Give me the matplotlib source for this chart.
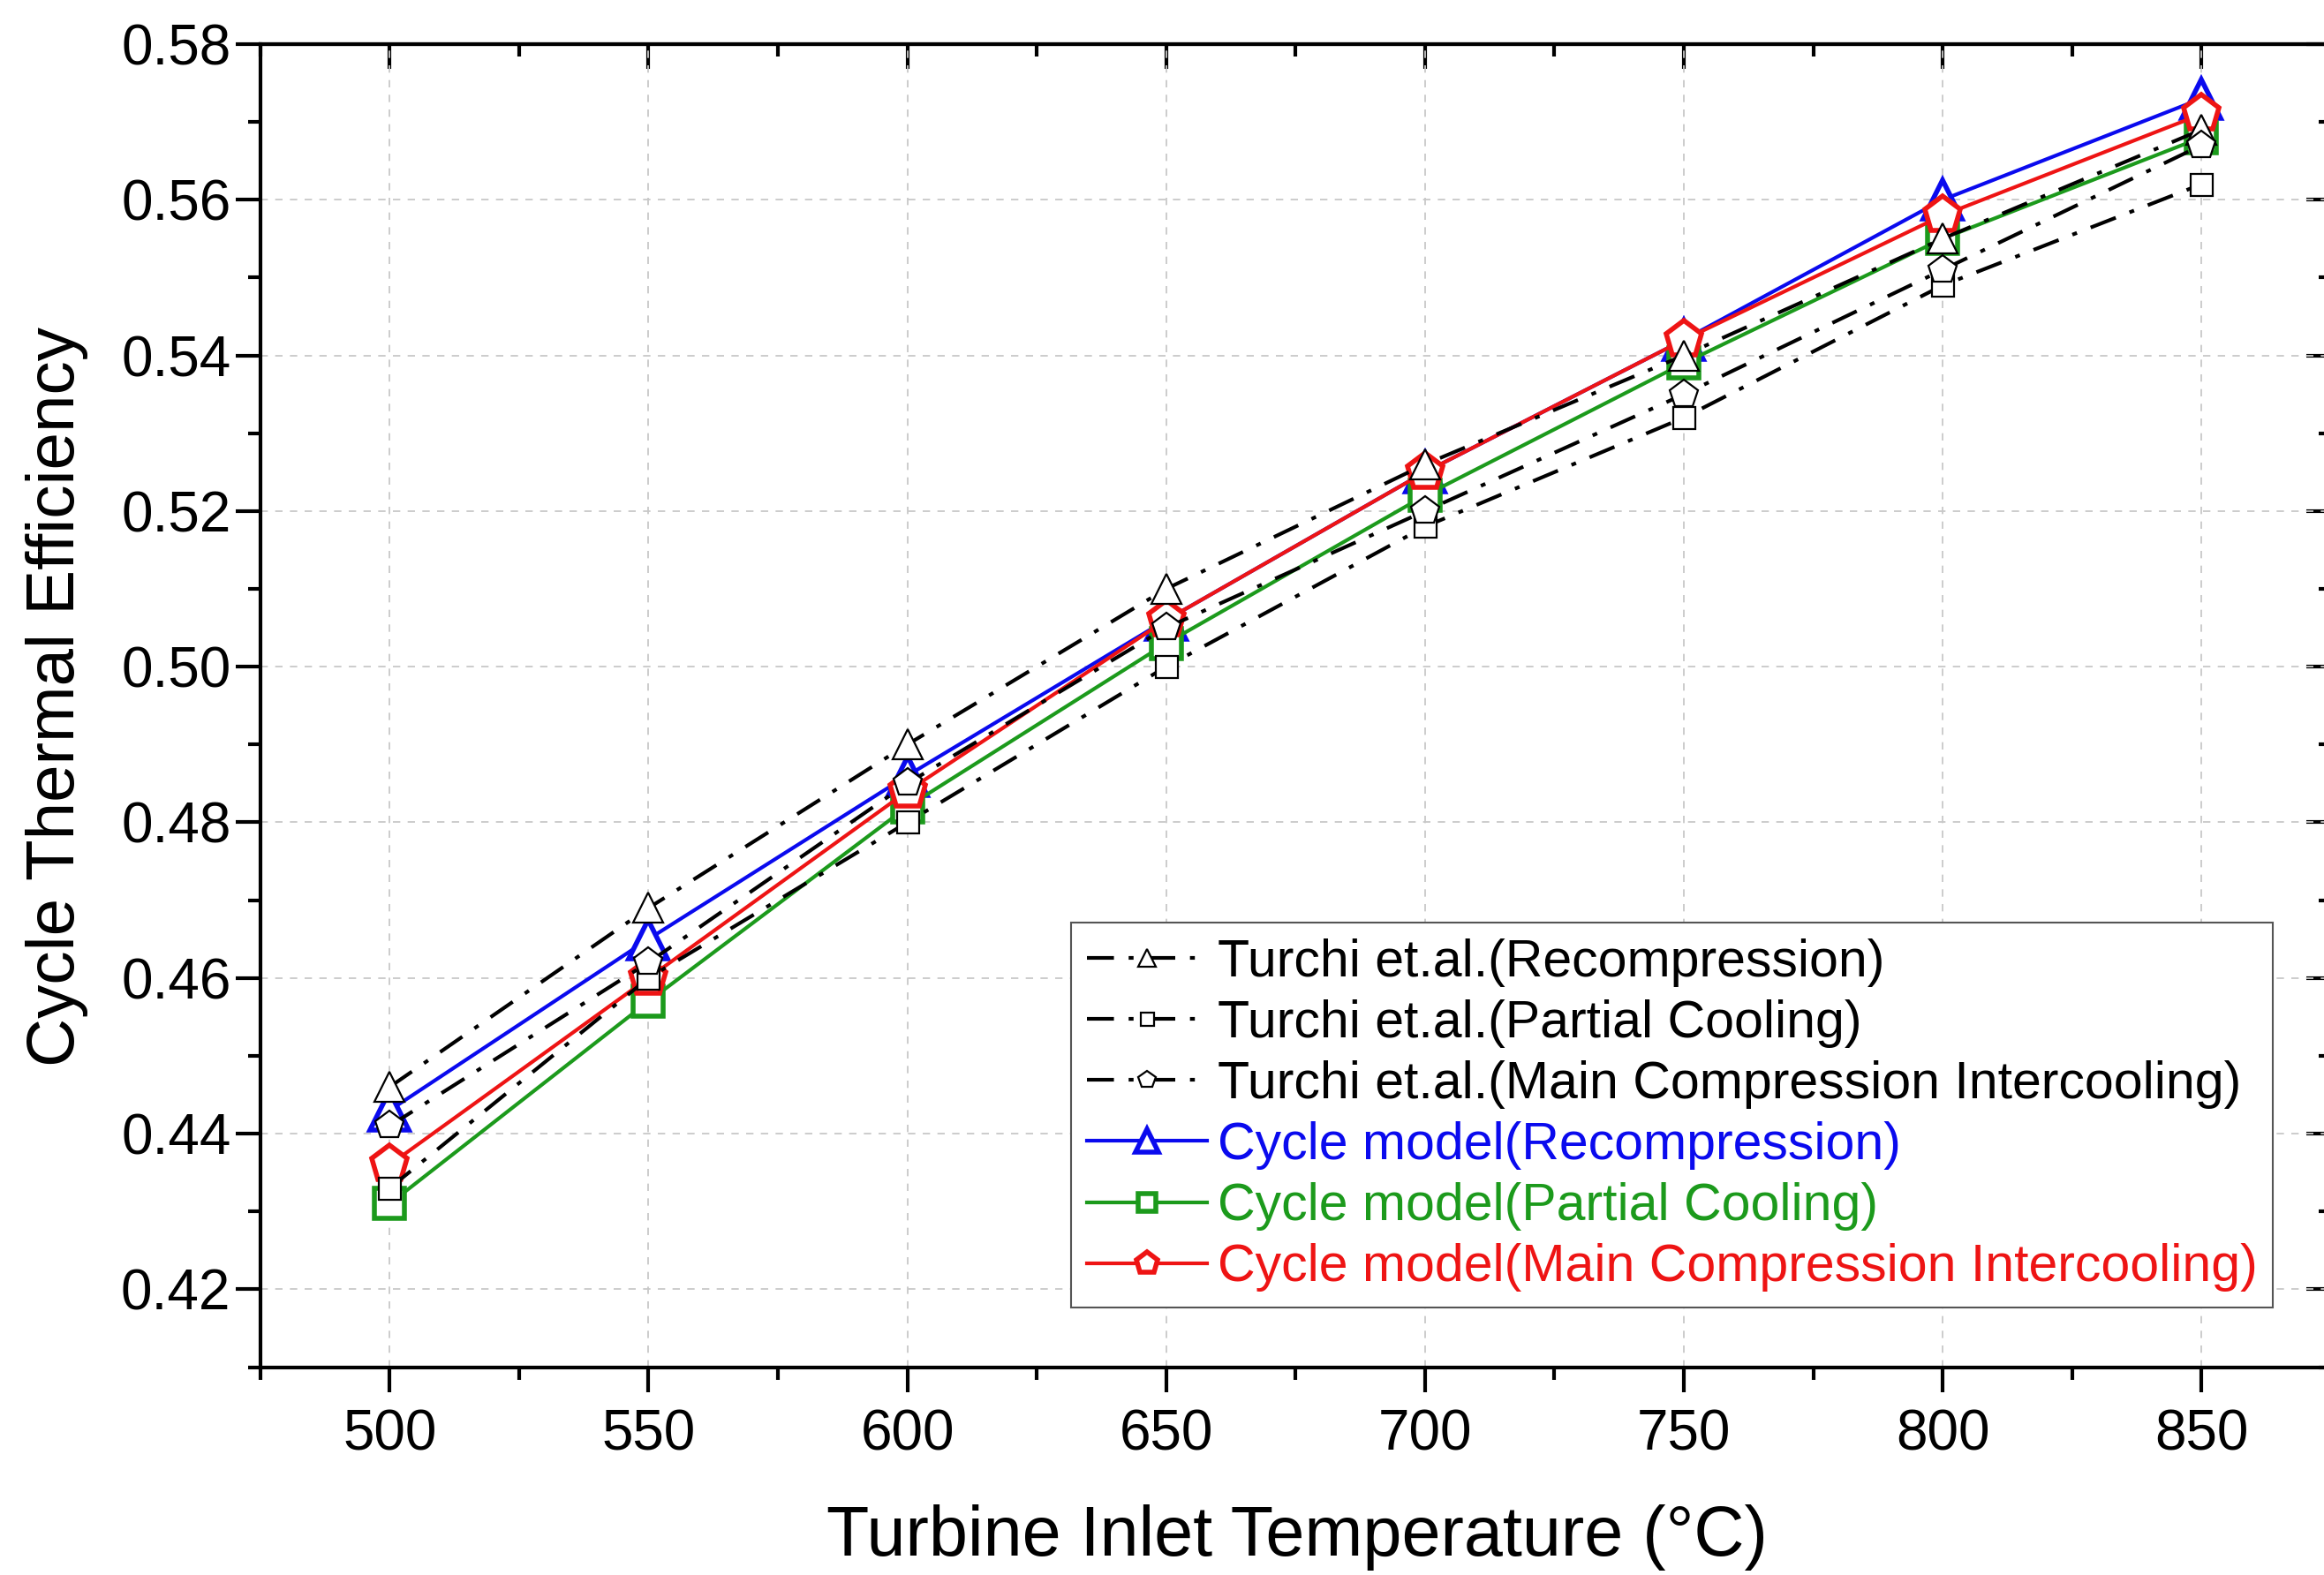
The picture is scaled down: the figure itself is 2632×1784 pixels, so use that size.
import numpy as np
import matplotlib
matplotlib.use("Agg")
import matplotlib.pyplot as plt
from matplotlib.ticker import MultipleLocator, FormatStrFormatter


temps = [500, 550, 600, 650, 700, 750, 800, 850]

turchi_recomp = [0.446, 0.469, 0.490, 0.510, 0.526, 0.540, 0.555, 0.569]
turchi_partial = [0.433, 0.460, 0.480, 0.500, 0.518, 0.532, 0.549, 0.562]
turchi_mci = [0.441, 0.462, 0.485, 0.505, 0.520, 0.535, 0.551, 0.567]

model_recomp = [0.443, 0.465, 0.486, 0.506, 0.525, 0.542, 0.560, 0.573]
model_partial = [0.431, 0.457, 0.482, 0.503, 0.522, 0.539, 0.555, 0.568]
model_mci = [0.436, 0.460, 0.484, 0.506, 0.525, 0.542, 0.558, 0.571]

turchi_labels = [
    "Turchi et.al.(Recompression)",
    "Turchi et.al.(Partial Cooling)",
    "Turchi et.al.(Main Compression Intercooling)",
]
model_labels = [
    "Cycle model(Recompression)",
    "Cycle model(Partial Cooling)",
    "Cycle model(Main Compression Intercooling)",
]

plt.rcParams["font.family"] = ["Liberation Sans", "DejaVu Sans"]
plt.rcParams["lines.scale_dashes"] = False

fig = plt.figure(figsize=(26.32, 17.84), dpi=100)
ax = fig.add_axes([0.112, 0.132, 0.891, 0.840])

# cycle model curves first, reference markers drawn on top
model_colors = ["#0a0aee", "#1c9a1c", "#ee1414"]
model_markers = ["^", "s", "p"]
model_sizes = [32, 24, 31]
model_handles = []
for vals, col, mk, ms, lab in zip([model_recomp, model_partial, model_mci],
                                  model_colors, model_markers, model_sizes, model_labels):
    h, = ax.plot(temps, vals, color=col, lw=3, marker=mk, ms=ms,
                 mfc="white", mec=col, mew=4, label=lab, zorder=3)
    model_handles.append(h)

turchi_markers = ["^", "s", "p"]
turchi_sizes = [24, 18, 24]
turchi_handles = []
for vals, mk, ms, lab in zip([turchi_recomp, turchi_partial, turchi_mci],
                             turchi_markers, turchi_sizes, turchi_labels):
    h, = ax.plot(temps, vals, color="black", lw=3, dashes=(22, 12, 4, 12),
                 marker=mk, ms=ms, mfc="white", mec="black", mew=1.6,
                 label=lab, zorder=4)
    turchi_handles.append(h)

ax.set_xlim(475, 875)
ax.set_ylim(0.41, 0.58)
ax.xaxis.set_major_locator(MultipleLocator(50))
ax.xaxis.set_minor_locator(MultipleLocator(25))
ax.yaxis.set_major_locator(MultipleLocator(0.02))
ax.yaxis.set_minor_locator(MultipleLocator(0.01))
ax.yaxis.set_major_formatter(FormatStrFormatter("%.2f"))

ax.grid(True, which="major", color="#c8c8c8", ls=(0, (6, 6)), lw=1.3)
ax.set_axisbelow(True)

for sp in ax.spines.values():
    sp.set_linewidth(3)

ax.tick_params(which="major", direction="out", length=20, width=3,
               labelsize=46, pad=4)
ax.tick_params(which="minor", direction="out", length=10, width=3)
ax.tick_params(axis="x", which="major", pad=14)

# inward ticks on the top and right frame
top = ax.secondary_xaxis("top")
top.xaxis.set_major_locator(MultipleLocator(50))
top.xaxis.set_minor_locator(MultipleLocator(25))
top.tick_params(which="major", direction="in", length=20, width=3, labeltop=False)
top.tick_params(which="minor", direction="in", length=10, width=3)
top.spines["top"].set_linewidth(3)

right = ax.secondary_yaxis("right")
right.yaxis.set_major_locator(MultipleLocator(0.02))
right.yaxis.set_minor_locator(MultipleLocator(0.01))
right.tick_params(which="major", direction="in", length=20, width=3, labelright=False)
right.tick_params(which="minor", direction="in", length=10, width=3)

ax.set_xlabel("Turbine Inlet Temperature (°C)", fontsize=57)
ax.set_ylabel("Cycle Thermal Efficiency", fontsize=55)
ax.xaxis.set_label_coords(0.5006, -0.104)
ax.yaxis.set_label_coords(-0.083, 0.507)

leg = ax.legend(handles=turchi_handles + model_handles,
                loc="lower right", bbox_to_anchor=(0.972, 0.045),
                fontsize=42.5, frameon=True, fancybox=False, framealpha=1,
                edgecolor="#555555", handlelength=2.3, handletextpad=0.2,
                labelspacing=0.24, borderpad=0.3, borderaxespad=0,
                labelcolor="linecolor", markerscale=0.6)
leg.get_frame().set_linewidth(1.5)

fig.savefig("out.png", dpi=100)
